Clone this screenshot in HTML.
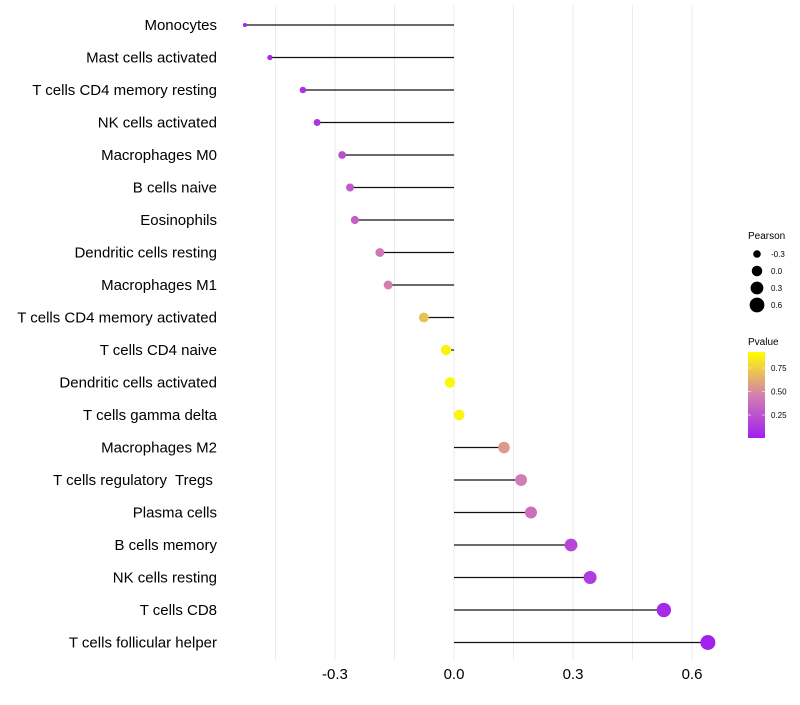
<!DOCTYPE html>
<html><head><meta charset="utf-8">
<style>
body{margin:0;background:#fff;font-family:"Liberation Sans",sans-serif}
svg text{font-family:"Liberation Sans",sans-serif;white-space:pre}
</style></head>
<body>
<svg id="chart" width="800" height="700" xmlns="http://www.w3.org/2000/svg">
<g id="grid"></g>
<g id="marks"></g>
<g id="ylab"></g>
<g id="xlab"></g>
<g id="legend">
<text x="748" y="239" font-size="10" fill="#000">Pearson</text>
<g id="sizeleg"></g>
<text x="748" y="345" font-size="10" fill="#000">Pvalue</text>
<defs><linearGradient id="pg" x1="0" y1="1" x2="0" y2="0">
<stop offset="0" stop-color="rgb(160,32,240)"/><stop offset="0.5" stop-color="rgb(212,128,175)"/><stop offset="1" stop-color="rgb(255,255,0)"/>
</linearGradient></defs>
<rect x="748" y="352" width="17" height="86" fill="url(#pg)"/>
<g id="cbticks"></g>
</g>
</svg>
<script>
const categories=["Monocytes","Mast cells activated","T cells CD4 memory resting","NK cells activated","Macrophages M0","B cells naive","Eosinophils","Dendritic cells resting","Macrophages M1","T cells CD4 memory activated","T cells CD4 naive","Dendritic cells activated","T cells gamma delta","Macrophages M2","T cells regulatory  Tregs ","Plasma cells","B cells memory","NK cells resting","T cells CD8","T cells follicular helper"];
const pearson=[-0.527,-0.464,-0.381,-0.345,-0.282,-0.262,-0.25,-0.187,-0.166,-0.076,-0.02,-0.01,0.013,0.126,0.169,0.194,0.295,0.343,0.529,0.64];
const pvalue=[0.02,0.05,0.1,0.12,0.25,0.3,0.33,0.45,0.5,0.75,0.95,0.97,0.96,0.6,0.48,0.42,0.2,0.15,0.05,0.01];
const xTicks=[-0.3,0.0,0.3,0.6];
const xTickLabels=["-0.3","0.0","0.3","0.6"];
const gridVals=[-0.45,-0.3,-0.15,0,0.15,0.3,0.45,0.6];
const sizeLegend=[-0.3,0.0,0.3,0.6];
const cbTicks=[0.25,0.5,0.75];
const NS="http://www.w3.org/2000/svg";
const x=v=>454+v*396.7;
const y=i=>25+i*32.5;
const r=v=>Math.sqrt(4+Math.max(0,v+0.53)*44.7);
function col(p){
 const a=[160,32,240],m=[212,128,175],b=[255,255,0];
 let s,e,t; if(p<0.5){s=a;e=m;t=p/0.5}else{s=m;e=b;t=(p-0.5)/0.5}
 return `rgb(${s.map((c,k)=>Math.round(c+(e[k]-c)*t)).join(',')})`;
}
function mk(tag,attrs,parent){const el=document.createElementNS(NS,tag);for(const k in attrs)el.setAttribute(k,attrs[k]);document.getElementById(parent).appendChild(el);return el;}
gridVals.forEach(g=>{
 const el=mk('line',{x1:x(g),x2:x(g),y1:5,y2:660,stroke:'#ebebeb','stroke-width':1},'grid');
 
 
});
categories.forEach((c,i)=>{
 const ln=mk('line',{x1:x(0),x2:x(pearson[i]),y1:y(i),y2:y(i),stroke:'#111','stroke-width':1.2},'marks');
 
 
 const pt=mk('circle',{cx:x(pearson[i]),cy:y(i),r:r(pearson[i]),fill:col(pvalue[i])},'marks');
 
 
 const t=mk('text',{x:217,y:y(i)+5,'text-anchor':'end','font-size':15,fill:'#000'},'ylab');
 t.textContent=c;
 
 
});
xTicks.forEach((v,i)=>{
 const t=mk('text',{x:x(v),y:679,'text-anchor':'middle','font-size':15,fill:'#000'},'xlab');
 t.textContent=xTickLabels[i];
 
 
});
sizeLegend.forEach((v,i)=>{
 const cy=254+i*17;
 const c=mk('circle',{cx:757,cy:cy,r:r(v),fill:'#000'},'sizeleg');
 
 
 const t=mk('text',{x:771,y:cy+3,'font-size':8,fill:'#000'},'sizeleg');
 t.textContent=v.toFixed(1);
 
 
});
cbTicks.forEach(v=>{
 const yy=438.5-v*94;
 const l=mk('line',{x1:748,x2:751,y1:yy,y2:yy,stroke:'#fff','stroke-width':0.6},'cbticks');
 
 
 const l2=mk('line',{x1:762,x2:765,y1:yy,y2:yy,stroke:'#fff','stroke-width':0.6},'cbticks');
 
 
 const t=mk('text',{x:771,y:yy+3,'font-size':8,fill:'#000'},'cbticks');
 t.textContent=v.toFixed(2);
 
 
});
</script>
</body></html>
